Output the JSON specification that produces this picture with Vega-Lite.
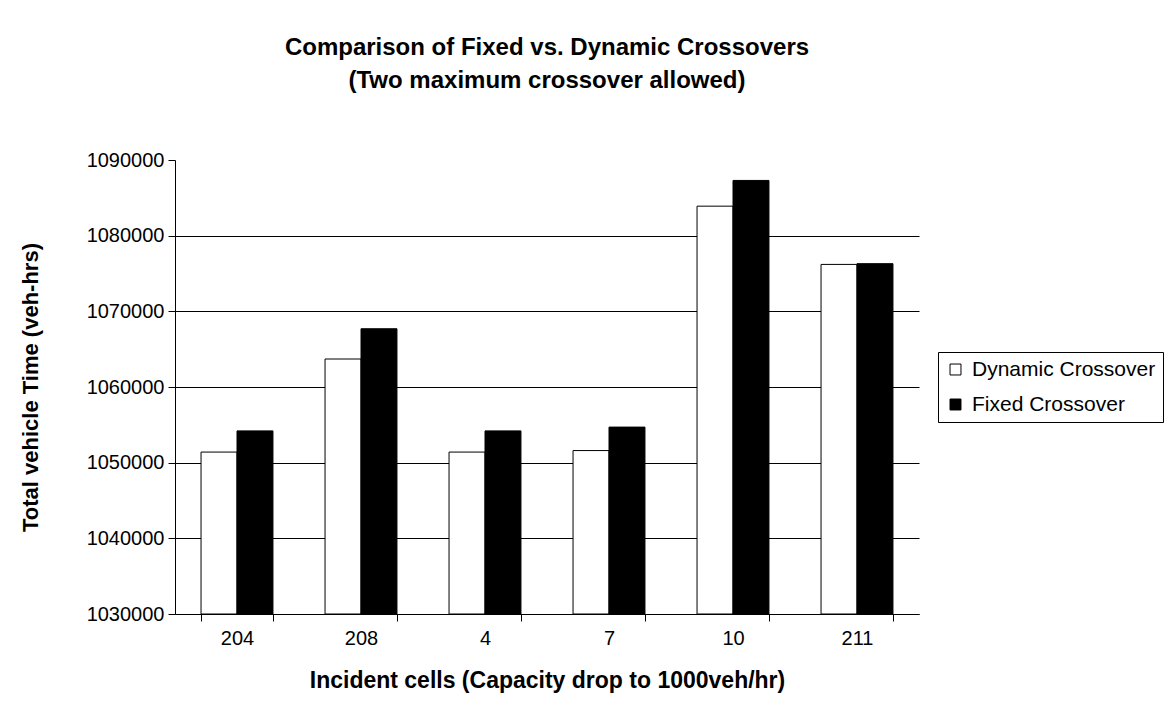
{
  "$schema": "https://vega.github.io/schema/vega-lite/v6.json",
  "autosize": {"type": "none"},
  "width": 744,
  "height": 454,
  "padding": {"left": 175, "top": 160, "right": 252, "bottom": 110},
  "background": "white",
  "title": {
    "text": ["Comparison of Fixed vs. Dynamic Crossovers", "(Two maximum crossover allowed)"],
    "font": "Liberation Sans",
    "fontSize": 24,
    "fontWeight": "bold",
    "lineHeight": 33,
    "color": "black",
    "anchor": "middle",
    "frame": "group",
    "offset": 57
  },
  "data": {
    "values": [
      {"cell": "204", "series": "Dynamic Crossover", "value": 1051400},
      {"cell": "204", "series": "Fixed Crossover", "value": 1054200},
      {"cell": "208", "series": "Dynamic Crossover", "value": 1063700},
      {"cell": "208", "series": "Fixed Crossover", "value": 1067700},
      {"cell": "4", "series": "Dynamic Crossover", "value": 1051400},
      {"cell": "4", "series": "Fixed Crossover", "value": 1054200},
      {"cell": "7", "series": "Dynamic Crossover", "value": 1051600},
      {"cell": "7", "series": "Fixed Crossover", "value": 1054700},
      {"cell": "10", "series": "Dynamic Crossover", "value": 1083900},
      {"cell": "10", "series": "Fixed Crossover", "value": 1087300},
      {"cell": "211", "series": "Dynamic Crossover", "value": 1076200},
      {"cell": "211", "series": "Fixed Crossover", "value": 1076300}
    ]
  },
  "mark": {"type": "bar", "stroke": "black", "strokeWidth": 1},
  "encoding": {
    "x": {
      "field": "cell",
      "type": "nominal",
      "sort": ["204", "208", "4", "7", "10", "211"],
      "scale": {"paddingInner": 0.42, "paddingOuter": 0.21},
      "axis": {
        "title": "Incident cells (Capacity drop to 1000veh/hr)",
        "labelAngle": 0,
        "labelFontSize": 20,
        "labelPadding": 7,
        "tickSize": 7,
        "tickBand": "extent",
        "titleFontSize": 23,
        "titleY": 66,
        "titleBaseline": "middle"
      }
    },
    "xOffset": {
      "field": "series",
      "type": "nominal",
      "sort": ["Dynamic Crossover", "Fixed Crossover"],
      "scale": {"paddingInner": 0, "paddingOuter": 0}
    },
    "y": {
      "field": "value",
      "type": "quantitative",
      "scale": {"domain": [1030000, 1090000], "nice": false, "zero": false},
      "axis": {
        "title": "Total vehicle Time (veh-hrs)",
        "values": [1030000, 1040000, 1050000, 1060000, 1070000, 1080000, 1090000],
        "format": "d",
        "labelFontSize": 20,
        "labelPadding": 4,
        "tickSize": 7,
        "grid": true,
        "gridColor": "black",
        "gridOpacity": {"condition": {"test": "datum.value == 1090000", "value": 0}, "value": 1},
        "titleFontSize": 22,
        "titleX": -145,
        "titleY": 227,
        "titleBaseline": "middle",
        "titleAngle": -90
      }
    },
    "y2": {"datum": 1030000},
    "fill": {
      "field": "series",
      "type": "nominal",
      "sort": ["Dynamic Crossover", "Fixed Crossover"],
      "scale": {"domain": ["Dynamic Crossover", "Fixed Crossover"], "range": ["white", "black"]},
      "legend": {
        "title": null,
        "orient": "none",
        "legendX": 763,
        "legendY": 192,
        "symbolType": "square",
        "symbolSize": 120,
        "symbolStrokeColor": "black",
        "symbolStrokeWidth": 1,
        "labelFontSize": 21,
        "labelOffset": 6,
        "labelLimit": 400,
        "labelColor": "black",
        "labelFont": "Liberation Sans",
        "rowPadding": 13,
        "padding": 7,
        "strokeColor": "black",
        "fillColor": "white"
      }
    }
  },
  "config": {
    "font": "Liberation Sans",
    "view": {"stroke": null},
    "axis": {
      "domainColor": "black",
      "tickColor": "black",
      "labelColor": "black",
      "titleColor": "black",
      "labelFont": "Liberation Sans",
      "titleFont": "Liberation Sans",
      "titleFontWeight": "bold",
      "domainWidth": 1,
      "tickWidth": 1,
      "gridWidth": 1
    }
  }
}
